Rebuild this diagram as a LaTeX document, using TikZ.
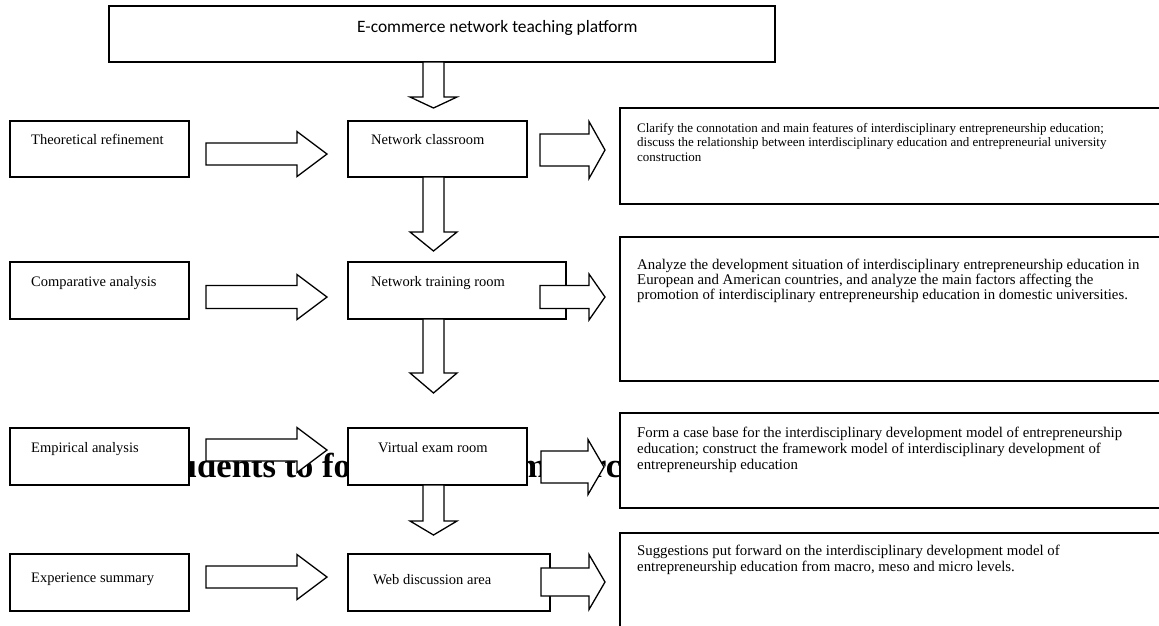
\documentclass[tikz,border=0pt]{standalone}
\usepackage{fontspec}
\setmainfont{Liberation Serif}
\newfontfamily\calibri{Carlito}
\usetikzlibrary{calc}

% block arrow pointing right: start, tip, shaft half height, head half height, head length
\newcommand\rightblock[5]{%
  \draw[blk] let \p1=(#1), \p2=(#2) in
    (\x1,\y1+#3pt) -- (\x2-#5pt,\y1+#3pt) -- (\x2-#5pt,\y1+#4pt) -- (\x2,\y1)
    -- (\x2-#5pt,\y1-#4pt) -- (\x2-#5pt,\y1-#3pt) -- (\x1,\y1-#3pt) -- cycle;}
% block arrow pointing down: start, tip, shaft half width, head half width, head length
\newcommand\downblock[5]{%
  \draw[blk] let \p1=(#1), \p2=(#2) in
    (\x1-#3pt,\y1) -- (\x1-#3pt,\y2+#5pt) -- (\x1-#4pt,\y2+#5pt) -- (\x1,\y2)
    -- (\x1+#4pt,\y2+#5pt) -- (\x1+#3pt,\y2+#5pt) -- (\x1+#3pt,\y1) -- cycle;}
% framed panel given by its corners
\newcommand\panel[5]{%
  \node[frame, minimum width={(#4-#2)*1pt}, minimum height={(#5-#3)*1pt}] (#1) at (#2,#3) {};}

\begin{document}
\begin{tikzpicture}[x=1pt, y=-1pt,
  frame/.style={draw, line width=1.2pt, fill=white, inner sep=0pt, outer sep=0pt, anchor=north west},
  blk/.style={draw, line width=1.3pt, fill=white, line join=miter},
  lbl/.style={anchor=base west, inner sep=0pt, font=\fontsize{14.5}{17}\selectfont},
  note/.style={anchor=north west, inner sep=0pt, align=left},
]
\useasboundingbox (0,0) rectangle (1159,625);
\clip (0,0) rectangle (1159,625);

% large caption lying behind the chart
\node[anchor=base west, inner sep=0pt, font=\bfseries\fontsize{34.6}{40}\selectfont] (bg) at (147,477)
  {Students to form the e-commerce};

% top platform box
\panel{top}{109}{6}{775}{62}
\node[anchor=base west, inner sep=0pt, font=\calibri\fontsize{17.4}{20}\selectfont] (topt) at (357,32)
  {E-commerce network teaching platform};

% left column
\panel{m1}{10}{121}{189}{177}
\panel{m2}{10}{262}{189}{319}
\panel{m3}{10}{428}{189}{485}
\panel{m4}{10}{554}{189}{611}
\node[lbl] (m1t) at (31,144) {Theoretical refinement};
\node[lbl] (m2t) at (31,286) {Comparative analysis};
\node[lbl] (m3t) at (31,452) {Empirical analysis};
\node[lbl] (m4t) at (31,582) {Experience summary};

% middle column
\panel{c1}{348}{121}{527}{177}
\panel{c2}{348}{262}{566}{319}
\panel{c3}{348}{428}{527}{485}
\panel{c4}{348}{554}{550}{611}
\node[lbl] (c1t) at (371,144) {Network classroom};
\node[lbl] (c2t) at (371,286) {Network training room};
\node[lbl] (c3t) at (378,452) {Virtual exam room};
\node[lbl] (c4t) at (373,584) {Web discussion area};

% right column
\panel{r1}{620}{108}{1175}{204}
\panel{r2}{620}{237}{1175}{381}
\panel{r3}{620}{413}{1175}{508}
\panel{r4}{620}{533}{1175}{640}
\node[note, font=\fontsize{13}{14.5}\selectfont] (r1t) at ($(r1.north west)+(17,15)$)
  {Clarify the connotation and main features of interdisciplinary entrepreneurship education;\\
   discuss the relationship between interdisciplinary education and entrepreneurial university\\
   construction};
\node[note, font=\fontsize{14.8}{15}\selectfont] (r2t) at ($(r2.north west)+(17,21.8)$)
  {Analyze the development situation of interdisciplinary entrepreneurship education in\\
   European and American countries, and analyze the main factors affecting the\\
   promotion of interdisciplinary entrepreneurship education in domestic universities.};
\node[note, font=\fontsize{14.8}{16}\selectfont] (r3t) at ($(r3.north west)+(17,13.8)$)
  {Form a case base for the interdisciplinary development model of entrepreneurship\\
   education; construct the framework model of interdisciplinary development of\\
   entrepreneurship education};
\node[note, font=\fontsize{14.8}{16.5}\selectfont] (r4t) at ($(r4.north west)+(17,11.8)$)
  {Suggestions put forward on the interdisciplinary development model of\\
   entrepreneurship education from macro, meso and micro levels.};

% axis of the vertical arrows
\coordinate (ax) at (433.5,0);

% downward block arrows
\downblock{ax |- top.south}{$(ax |- c1.north)+(0,-13)$}{10.5}{23.5}{11}
\downblock{ax |- c1.south}{$(ax |- c2.north)+(0,-11)$}{10.5}{23.5}{19}
\downblock{ax |- c2.south}{$(ax |- c3.north)+(0,-35)$}{10.5}{23.5}{20}
\downblock{ax |- c3.south}{$(ax |- c4.north)+(0,-19)$}{10.5}{23.5}{14}

% left to middle
\rightblock{$(m1.north east)+(17,33)$}{$(c1.north west)+(-21,33)$}{11}{22.5}{30}
\rightblock{$(m2.north east)+(17,35)$}{$(c2.north west)+(-21,35)$}{11.5}{22.5}{30}
\rightblock{$(m3.north east)+(17,22)$}{$(c3.north west)+(-21,22)$}{11}{22.5}{30}
\rightblock{$(m4.north east)+(17,23)$}{$(c4.north west)+(-21,23)$}{11}{22.5}{30}

% middle to right
\rightblock{$(c1.north east)+(13,29)$}{$(r1.north west)+(-15,42)$}{16}{28.5}{16}
\rightblock{$(c2.north east)+(-26,35)$}{$(r2.north west)+(-15,60)$}{11.5}{23}{16}
\rightblock{$(c3.north east)+(14,39)$}{$(r3.north west)+(-16,54)$}{16}{27.5}{16}
\rightblock{$(c4.north east)+(-9,28)$}{$(r4.north west)+(-15,49)$}{14}{27.5}{16}
\end{tikzpicture}
\end{document}
